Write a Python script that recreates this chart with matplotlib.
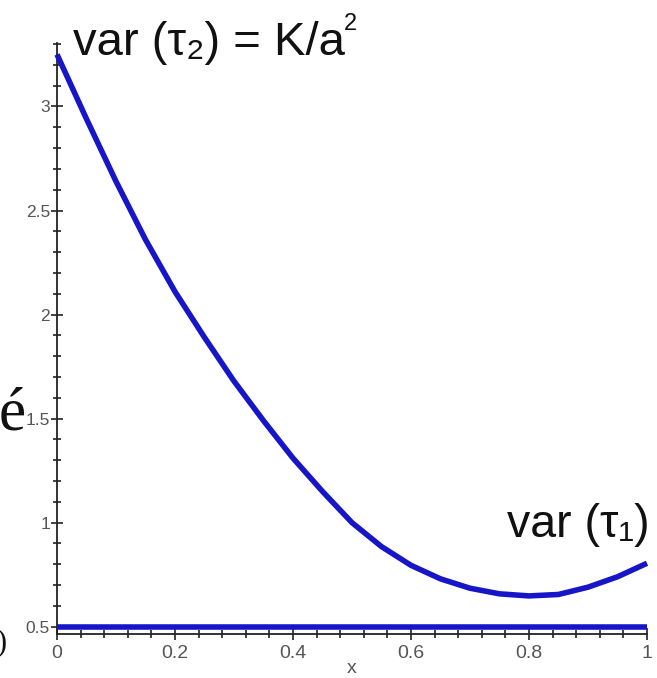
import matplotlib
matplotlib.use("Agg")
import matplotlib.pyplot as plt
from matplotlib.ticker import MultipleLocator, FixedLocator

# ---- data ----
x_vals = [0.00, 0.05, 0.10, 0.15, 0.20, 0.25, 0.30, 0.35, 0.40, 0.45, 0.50,
          0.55, 0.60, 0.65, 0.70, 0.75, 0.80, 0.85, 0.90, 0.95, 1.00]
var_tau = [3.25, 2.94, 2.64, 2.36, 2.11, 1.89, 1.68, 1.49, 1.31, 1.15, 1.00,
           0.885, 0.795, 0.73, 0.685, 0.658, 0.648, 0.655, 0.69, 0.74, 0.805]
const_x = [0.0, 1.0]
const_y = [0.5, 0.5]
x_ticks = [0, 0.2, 0.4, 0.6, 0.8, 1]
x_ticklabels = ["0", "0.2", "0.4", "0.6", "0.8", "1"]
y_ticks = [0.5, 1, 1.5, 2, 2.5, 3]
y_ticklabels = ["0.5", "1", "1.5", "2", "2.5", "3"]

W, H = 657, 678
fig = plt.figure(figsize=(W / 100, H / 100), dpi=100)
fig.patch.set_facecolor("white")

left, right, top, bottom = 57, 647, 43, 634
ax = fig.add_axes([left / W, 1 - bottom / H, (right - left) / W, (bottom - top) / H])

blue = "#1616C8"
ax.plot(x_vals, var_tau, color=blue, lw=4.0, solid_capstyle="butt", zorder=3, clip_on=False)
ax.plot(const_x, const_y, color=blue, lw=4.0, solid_capstyle="butt", zorder=3, clip_on=False)

ax.set_xlim(0, 1.0)
ax.set_ylim(0.465, 3.305)

for s in ["top", "right"]:
    ax.spines[s].set_visible(False)
for s in ["left", "bottom"]:
    ax.spines[s].set_linewidth(1.3)
    ax.spines[s].set_color("#222222")

ax.xaxis.set_major_locator(FixedLocator(x_ticks))
ax.set_xticklabels(x_ticklabels)
ax.xaxis.set_minor_locator(MultipleLocator(0.04))
ax.yaxis.set_major_locator(FixedLocator(y_ticks))
ax.set_yticklabels(y_ticklabels)
ax.yaxis.set_minor_locator(FixedLocator([0.5 + 0.1 * i for i in range(29)]))

ax.tick_params(which="major", direction="inout", length=8, width=1.2, color="#222222",
               labelcolor="#555555")
ax.tick_params(which="minor", direction="inout", length=6, width=1.2, color="#222222")
ax.tick_params(axis="x", which="major", labelsize=14, pad=4)
ax.tick_params(axis="y", which="major", labelsize=12.5, pad=1)
for lab in ax.get_xticklabels() + ax.get_yticklabels():
    lab.set_family(["Liberation Sans", "DejaVu Sans"])

ax.set_xlabel("x", fontsize=14, color="#555555", family=["Liberation Sans", "DejaVu Sans"],
              labelpad=-1.5)

fam = ["Liberation Sans", "DejaVu Sans"]
def ftext(px, py, s, **kw):
    fig.text(px / W, 1 - py / H, s, **kw)

ftext(73, 55, "var (τ₂) = K/a", fontsize=34, family=fam, color="#111111", va="baseline")
ftext(344, 30, "2", fontsize=17, family=fam, color="#111111", va="baseline")
ftext(507, 537, "var (τ₁)", fontsize=33.5, family=fam, color="#111111", va="baseline")

serif = ["Liberation Serif", "DejaVu Serif"]
ftext(26, 430, "é", fontsize=44, family=serif, color="#111111", va="baseline", ha="right")
ftext(6, 650, ")", fontsize=22, family=serif, color="#111111", va="baseline", ha="right")

fig.savefig("out.png", dpi=100)
